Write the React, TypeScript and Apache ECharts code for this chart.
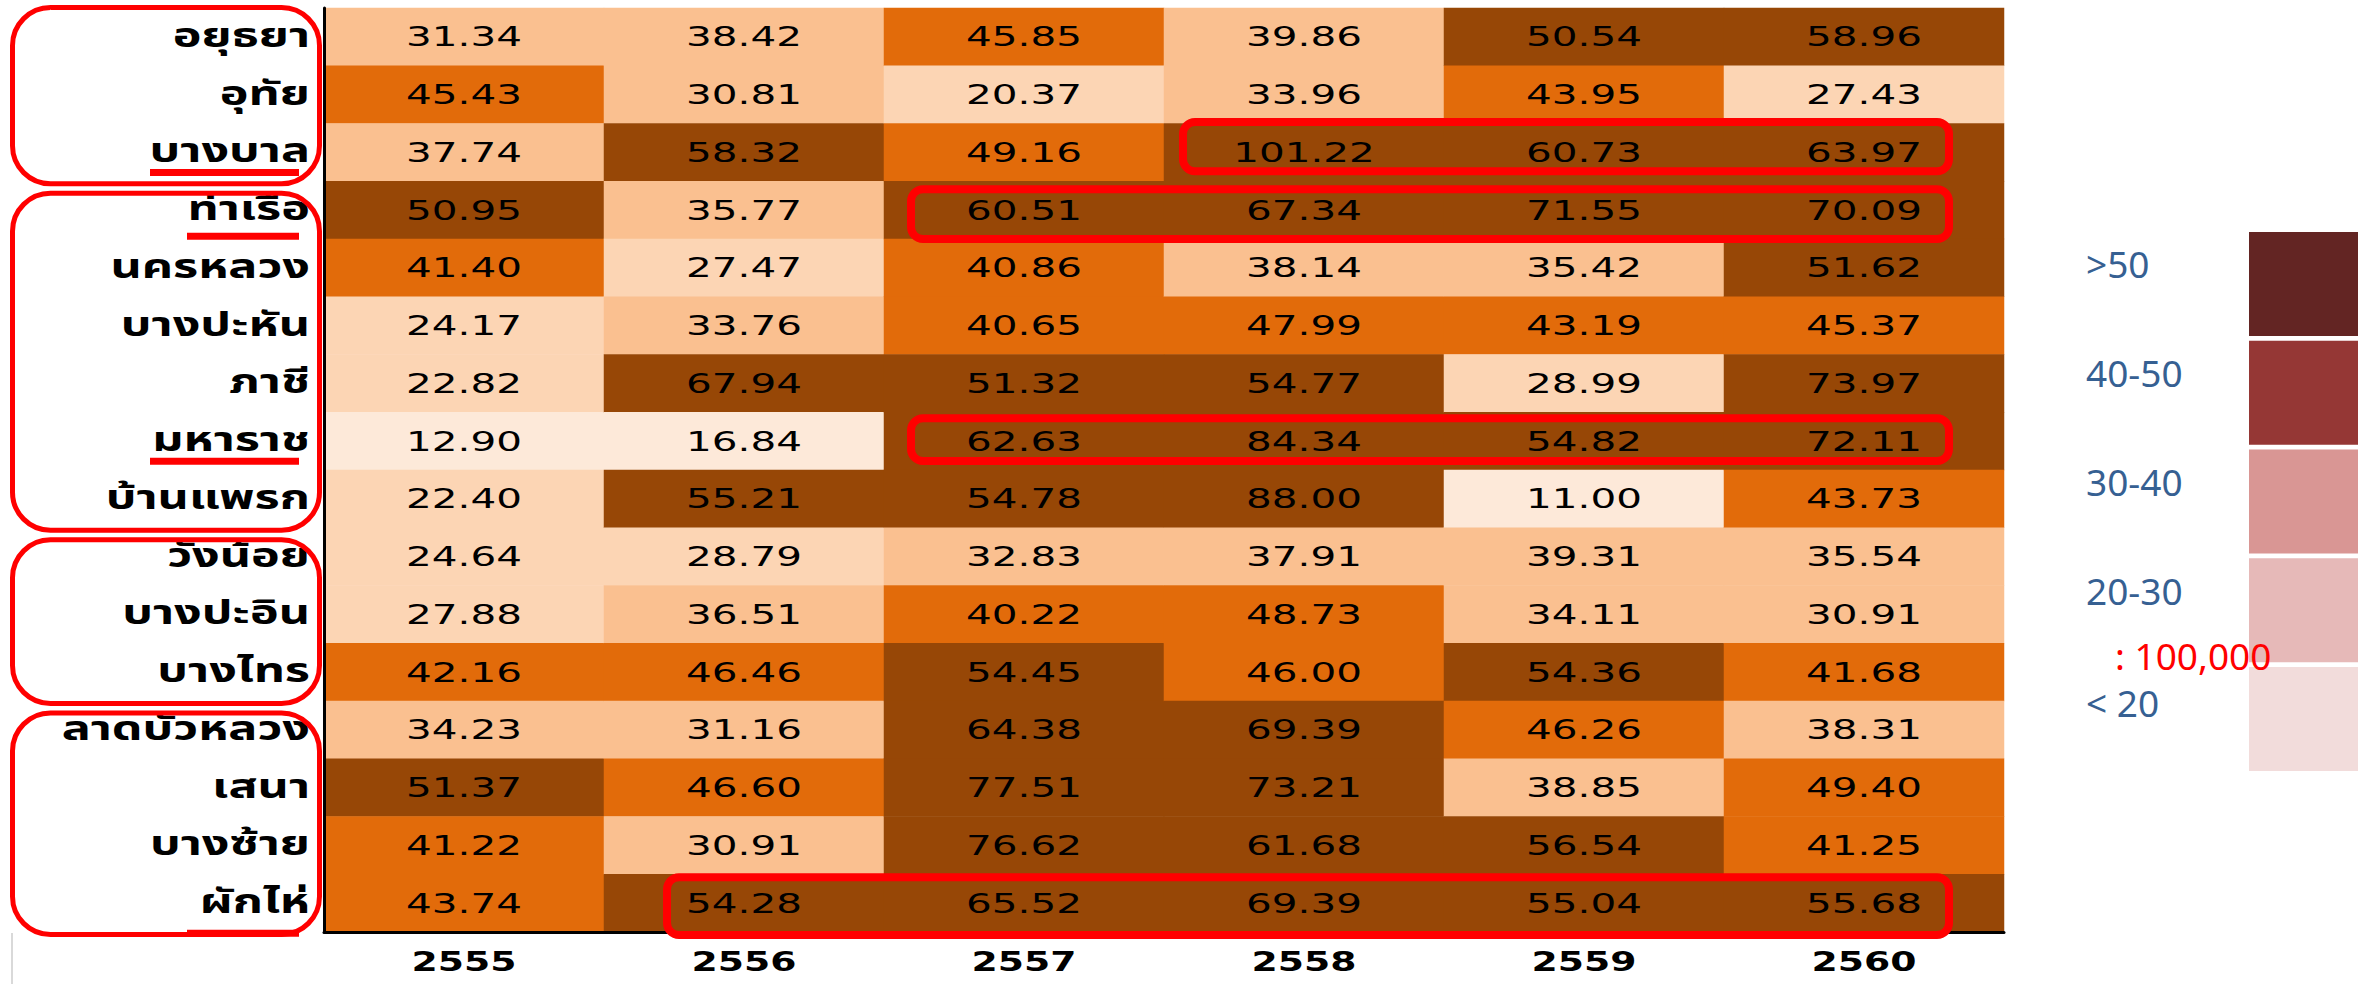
import React, { useEffect, useRef } from 'react';
import * as echarts from 'echarts';

// ---------- data ----------
const years = ['2555', '2556', '2557', '2558', '2559', '2560'];
const districts = [
  'อยุธยา', 'อุทัย', 'บางบาล', 'ท่าเรือ', 'นครหลวง', 'บางปะหัน', 'ภาชี', 'มหาราช',
  'บ้านแพรก', 'วังน้อย', 'บางปะอิน', 'บางไทร', 'ลาดบัวหลวง', 'เสนา', 'บางซ้าย', 'ผักไห่',
];
const rate2555 = [31.34, 45.43, 37.74, 50.95, 41.40, 24.17, 22.82, 12.90, 22.40, 24.64, 27.88, 42.16, 34.23, 51.37, 41.22, 43.74];
const rate2556 = [38.42, 30.81, 58.32, 35.77, 27.47, 33.76, 67.94, 16.84, 55.21, 28.79, 36.51, 46.46, 31.16, 46.60, 30.91, 54.28];
const rate2557 = [45.85, 20.37, 49.16, 60.51, 40.86, 40.65, 51.32, 62.63, 54.78, 32.83, 40.22, 54.45, 64.38, 77.51, 76.62, 65.52];
const rate2558 = [39.86, 33.96, 101.22, 67.34, 38.14, 47.99, 54.77, 84.34, 88.00, 37.91, 48.73, 46.00, 69.39, 73.21, 61.68, 69.39];
const rate2559 = [50.54, 43.95, 60.73, 71.55, 35.42, 43.19, 28.99, 54.82, 11.00, 39.31, 34.11, 54.36, 46.26, 38.85, 56.54, 55.04];
const rate2560 = [58.96, 27.43, 63.97, 70.09, 51.62, 45.37, 73.97, 72.11, 43.73, 35.54, 30.91, 41.68, 38.31, 49.40, 41.25, 55.68];
const yearRates = [rate2555, rate2556, rate2557, rate2558, rate2559, rate2560];

// cell colour classes
const binEdges = [20, 30, 40, 50];
const cellColors = ['#FDE9D9', '#FCD5B4', '#FAC090', '#E26B0A', '#974706'];

// side legend (as in the picture)
const legendLabels = ['>50', '40-50', '30-40', '20-30', '< 20'];
const legendColors = ['#632523', '#953735', '#D99694', '#E6B9B8', '#F2DCDB'];
const legendNote = ': 100,000';

// annotations
const districtGroups = [[0, 2], [3, 8], [9, 11], [12, 15]];
const underlinedRows = [2, 3, 7, 15];
const highlightRows = [[2, 3, 5], [3, 2, 5], [7, 2, 5], [15, 1, 5]];

// ---------- styling constants ----------
const W = 2358;
const H = 984;
const THAI_FONT = "'Noto Sans Thai', 'Noto Sans Thai UI', Loma, Garuda, Tahoma, 'DejaVu Sans', sans-serif";
const NUM_FONT = "'DejaVu Sans', Verdana, sans-serif";
const STRETCH = 1.5;
const highlightInsets = [
  [19, -1.5, -55, -10],
  [27, 8, -55, 0],
  [27, 6, -55, -9],
  [63, 3, -55, 3],
];
const underlineStart = [150, 187, 150, 187];
const underlineDy = [20, 26, 20, 30];

export default function App() {
  const ref = useRef<HTMLDivElement | null>(null);

  useEffect(() => {
    if (!ref.current) return;
    const chart = echarts.init(ref.current, undefined, { renderer: 'svg', width: W, height: H });

    const heatData: number[][] = [];
    yearRates.forEach((arr, xi) => arr.forEach((v, yi) => heatData.push([xi, yi, v])));

    const pieces = cellColors.map((c, i) => {
      const p: any = { color: c };
      if (i > 0) p.gte = binEdges[i - 1];
      if (i < binEdges.length) p.lt = binEdges[i];
      return p;
    });

    const textStyle = (extra: any) => ({
      textAlign: extra.align,
      textVerticalAlign: 'middle',
      verticalAlign: 'middle',
      ...extra,
    });

    chart.setOption({
      animation: false,
      backgroundColor: '#ffffff',
      grid: { left: 324, right: W - 2004, top: 8, bottom: H - 932 },
      xAxis: {
        type: 'category',
        data: years,
        position: 'bottom',
        z: 10,
        axisLine: { show: true, lineStyle: { color: '#000', width: 3 } },
        axisTick: { show: false },
        splitLine: { show: false },
        axisLabel: { show: false },
      },
      yAxis: {
        type: 'category',
        data: districts,
        inverse: true,
        z: 10,
        axisLine: { show: true, lineStyle: { color: '#000', width: 3 } },
        axisTick: { show: false },
        splitLine: { show: false },
        axisLabel: { show: false },
      },
      visualMap: {
        type: 'piecewise',
        show: false,
        seriesIndex: 0,
        dimension: 2,
        pieces,
      },
      series: [
        {
          type: 'heatmap',
          data: heatData,
          itemStyle: { borderWidth: 0 },
          emphasis: { disabled: true },
          silent: true,
        },
        {
          // cell values
          type: 'custom',
          data: heatData,
          z: 5,
          silent: true,
          renderItem: (params: any, api: any) => {
            const p = api.coord([api.value(0), api.value(1)]);
            return {
              type: 'text',
              x: p[0],
              y: p[1],
              scaleX: STRETCH,
              style: textStyle({
                text: Number(api.value(2)).toFixed(2),
                align: 'center',
                fill: '#000',
                fontSize: 27,
                fontFamily: NUM_FONT,
              }),
            };
          },
        },
        {
          // district (row) labels, stretched like the source table
          type: 'custom',
          data: districts.map((_, i) => [0, i]),
          z: 5,
          silent: true,
          clip: false,
          renderItem: (params: any, api: any) => {
            const p = api.coord([0, api.value(1)]);
            return {
              type: 'text',
              x: params.coordSys.x - 14,
              y: p[1],
              scaleX: 1.47,
              style: textStyle({
                text: districts[params.dataIndex],
                align: 'right',
                fill: '#000',
                fontSize: 33,
                fontWeight: 'bold',
                fontFamily: THAI_FONT,
              }),
            };
          },
        },
        {
          // year (column) labels
          type: 'custom',
          data: years.map((_, i) => [i, 0]),
          z: 5,
          silent: true,
          clip: false,
          renderItem: (params: any, api: any) => {
            const p = api.coord([api.value(0), 0]);
            return {
              type: 'text',
              x: p[0],
              y: params.coordSys.y + params.coordSys.height + 30,
              scaleX: 1.45,
              style: textStyle({
                text: years[params.dataIndex],
                align: 'center',
                fill: '#000',
                fontSize: 26,
                fontWeight: 'bold',
                fontFamily: NUM_FONT,
              }),
            };
          },
        },
      ],
    });

    // annotations computed from the grid's own coordinate system
    const px = (c: number, r: number) => chart.convertToPixel({ gridIndex: 0 }, [c, r]) as number[];
    const p00 = px(0, 0);
    const cw = px(1, 0)[0] - p00[0];
    const ch = px(0, 1)[1] - p00[1];
    const colLeft = (c: number) => px(c, 0)[0] - cw / 2;
    const rowTop = (r: number) => px(0, r)[1] - ch / 2;
    const gridLeft = colLeft(0);

    const graphics: any[] = [];

    districtGroups.forEach(([a, b], i) => {
      const y0 = rowTop(a) + (i === 0 ? -0.5 : 12);
      const y1 = rowTop(b) + ch + 2.5;
      graphics.push({
        type: 'rect',
        z: 100,
        shape: { x: gridLeft - 311.5, y: y0, width: 307, height: y1 - y0, r: 38 },
        style: { fill: 'none', stroke: '#FF0000', lineWidth: 5 },
        silent: true,
      });
    });

    underlinedRows.forEach((r, i) => {
      const yc = rowTop(r) + ch / 2 + underlineDy[i];
      graphics.push({
        type: 'line',
        z: 100,
        shape: { x1: underlineStart[i], y1: yc, x2: gridLeft - 25, y2: yc },
        style: { stroke: '#FF0000', lineWidth: 7 },
        silent: true,
      });
    });

    highlightRows.forEach(([r, c0, c1], i) => {
      const ins = highlightInsets[i];
      const x0 = colLeft(c0) + ins[0];
      const x1 = colLeft(c1) + cw + ins[2];
      const y0 = rowTop(r) + ins[1];
      const y1 = rowTop(r) + ch + ins[3];
      graphics.push({
        type: 'rect',
        z: 100,
        shape: { x: x0, y: y0, width: x1 - x0, height: y1 - y0, r: 12 },
        style: { fill: 'none', stroke: '#FF0000', lineWidth: 8 },
        silent: true,
      });
    });

    // faint grey rule at bottom-left
    graphics.push({
      type: 'line',
      z: 100,
      shape: { x1: 12, y1: 933, x2: 12, y2: H },
      style: { stroke: '#D9D9D9', lineWidth: 2 },
      silent: true,
    });

    // side legend
    legendColors.forEach((c, i) => {
      graphics.push({
        type: 'rect',
        z: 100,
        shape: { x: 2249, y: 232 + i * 108.75, width: 120, height: 104 },
        style: { fill: c },
        silent: true,
      });
    });
    legendLabels.forEach((t, i) => {
      graphics.push({
        type: 'text',
        z: 101,
        x: 2086,
        y: 263 + i * 109 + (i === 4 ? 3 : 0),
        style: textStyle({
          text: t,
          fill: '#366092',
          fontSize: 37,
          fontFamily: "'Noto Sans', sans-serif",
          align: 'left',
        }),
        silent: true,
      });
    });
    graphics.push({
      type: 'text',
      z: 102,
      x: 2115,
      y: 655,
      style: textStyle({
        text: legendNote,
        fill: '#FF0000',
        fontSize: 37,
        fontFamily: "'Noto Sans', sans-serif",
        align: 'left',
      }),
      silent: true,
    });

    chart.setOption({ graphic: { elements: graphics } });

    return () => {
      chart.dispose();
    };
  }, []);

  return (
    <div
      ref={ref}
      style={{ position: 'fixed', left: 0, top: 0, width: W, height: H, background: '#fff' }}
    />
  );
}
